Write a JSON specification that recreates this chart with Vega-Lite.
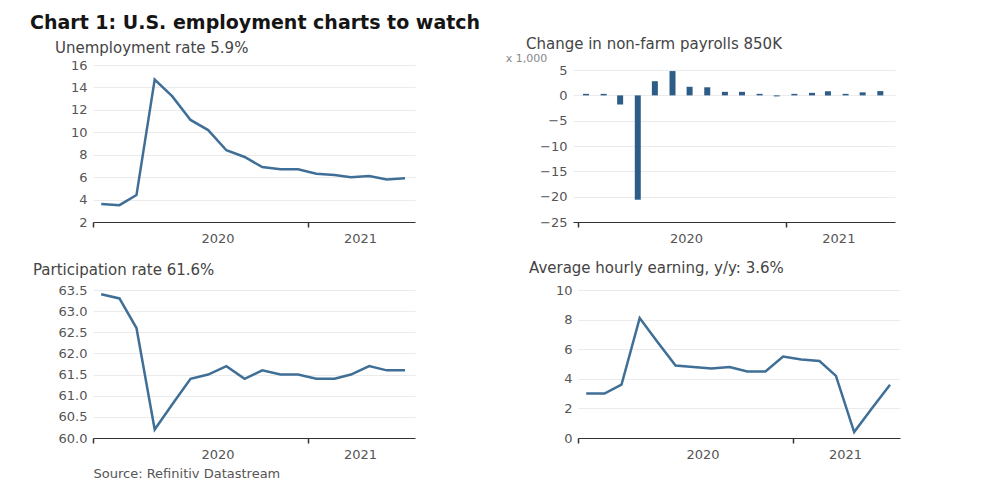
{
  "$schema": "https://vega.github.io/schema/vega-lite/v6.json",
  "padding": {"left": 30, "top": 14, "right": 10, "bottom": 2},
  "background": "white",
  "title": {"text": "Chart 1: U.S. employment charts to watch", "anchor": "start", "frame": "bounds", "font": "DejaVu Sans", "fontSize": 19, "fontWeight": "bold", "color": "#151515", "offset": 4},
  "datasets": {
    "d": [
      {"date": "2020-01-15", "unemp": 3.6, "payrolls": 0.3, "part": 63.4, "ahe": 3.0},
      {"date": "2020-02-15", "unemp": 3.5, "payrolls": 0.3, "part": 63.3, "ahe": 3.0},
      {"date": "2020-03-15", "unemp": 4.4, "payrolls": -1.8, "part": 62.6, "ahe": 3.6},
      {"date": "2020-04-15", "unemp": 14.7, "payrolls": -20.6, "part": 60.2, "ahe": 8.1},
      {"date": "2020-05-15", "unemp": 13.2, "payrolls": 2.8, "part": 60.8, "ahe": 6.5},
      {"date": "2020-06-15", "unemp": 11.1, "payrolls": 4.8, "part": 61.4, "ahe": 4.9},
      {"date": "2020-07-15", "unemp": 10.2, "payrolls": 1.7, "part": 61.5, "ahe": 4.8},
      {"date": "2020-08-15", "unemp": 8.4, "payrolls": 1.6, "part": 61.7, "ahe": 4.7},
      {"date": "2020-09-15", "unemp": 7.8, "payrolls": 0.7, "part": 61.4, "ahe": 4.8},
      {"date": "2020-10-15", "unemp": 6.9, "payrolls": 0.7, "part": 61.6, "ahe": 4.5},
      {"date": "2020-11-15", "unemp": 6.7, "payrolls": 0.3, "part": 61.5, "ahe": 4.5},
      {"date": "2020-12-15", "unemp": 6.7, "payrolls": -0.2, "part": 61.5, "ahe": 5.5},
      {"date": "2021-01-15", "unemp": 6.3, "payrolls": 0.3, "part": 61.4, "ahe": 5.3},
      {"date": "2021-02-15", "unemp": 6.2, "payrolls": 0.5, "part": 61.4, "ahe": 5.2},
      {"date": "2021-03-15", "unemp": 6.0, "payrolls": 0.8, "part": 61.5, "ahe": 4.2},
      {"date": "2021-04-15", "unemp": 6.1, "payrolls": 0.3, "part": 61.7, "ahe": 0.4},
      {"date": "2021-05-15", "unemp": 5.8, "payrolls": 0.6, "part": 61.6, "ahe": 2.0},
      {"date": "2021-06-15", "unemp": 5.9, "payrolls": 0.85, "part": 61.6, "ahe": 3.6}
    ]
  },
  "config": {
    "font": "DejaVu Sans",
    "view": {"stroke": null},
    "title": {"anchor": "start", "frame": "group", "font": "DejaVu Sans", "fontSize": 15, "fontWeight": "normal", "color": "#444"},
    "axisX": {
      "labelExpr": "utcFormat(datum.value, '%Y')",
      "labelOffset": {"condition": {"test": "utcyear(datum.value) == 2020", "value": 108}, "value": 52},
      "labelFontSize": 13, "labelColor": "#555", "labelPadding": 5,
      "tickColor": "#333", "tickSize": 5, "tickWidth": 1.5,
      "domainColor": "#333", "domainWidth": 1.2,
      "grid": false, "title": null
    },
    "axisY": {
      "grid": true, "gridColor": "#ebebeb", "gridWidth": 1,
      "ticks": false, "domain": false,
      "labelFontSize": 13, "labelColor": "#555", "labelPadding": 6,
      "minExtent": 63, "maxExtent": 63, "title": null
    }
  },
  "vconcat": [
    {
      "hconcat": [
        {
          "width": 322, "height": 157,
          "title": {"text": "Unemployment rate 5.9%", "dx": -38, "offset": 3},
          "data": {"name": "d"},
          "mark": {"type": "line", "color": "#3f6f97", "strokeWidth": 2.5},
          "encoding": {
            "x": {"field": "date", "type": "temporal", "scale": {"type": "utc", "domain": [{"year": 2020, "month": 1, "date": 1, "utc": true}, {"year": 2021, "month": 7, "date": 2, "utc": true}]}, "axis": {"values": [{"year": 2020, "month": 1, "date": 1, "utc": true}, {"year": 2021, "month": 1, "date": 1, "utc": true}]}},
            "y": {"field": "unemp", "type": "quantitative", "scale": {"domain": [2, 16], "nice": false}, "axis": {"values": [2, 4, 6, 8, 10, 12, 14, 16]}}
          }
        },
        {
          "width": 322, "height": 157,
          "title": {"text": "Change in non-farm payrolls 850K", "dx": -47, "offset": 0},
          "data": {"name": "d"},
          "mark": {"type": "bar", "color": "#2d5d87", "size": 6},
          "encoding": {
            "x": {"field": "date", "type": "temporal", "scale": {"type": "utc", "domain": [{"year": 2020, "month": 1, "date": 1, "utc": true}, {"year": 2021, "month": 7, "date": 2, "utc": true}]}, "axis": {"values": [{"year": 2020, "month": 1, "date": 1, "utc": true}, {"year": 2021, "month": 1, "date": 1, "utc": true}]}},
            "y": {"field": "payrolls", "type": "quantitative", "scale": {"domain": [-25, 6], "nice": false}, "axis": {"values": [-25, -20, -15, -10, -5, 0, 5], "title": "x 1,000", "titleAngle": 0, "titleX": -47, "titleY": -4, "titleAlign": "center", "titleBaseline": "alphabetic", "titleFontSize": 11, "titleFontWeight": "normal", "titleColor": "#888"}}
          }
        }
      ],
      "spacing": 90
    },
    {
      "hconcat": [
        {
          "width": 322, "height": 148,
          "title": {"text": "Participation rate 61.6%", "dx": -60, "offset": 6},
          "data": {"name": "d"},
          "mark": {"type": "line", "color": "#3f6f97", "strokeWidth": 2.5},
          "encoding": {
            "x": {"field": "date", "type": "temporal", "scale": {"type": "utc", "domain": [{"year": 2020, "month": 1, "date": 1, "utc": true}, {"year": 2021, "month": 7, "date": 2, "utc": true}]}, "axis": {"values": [{"year": 2020, "month": 1, "date": 1, "utc": true}, {"year": 2021, "month": 1, "date": 1, "utc": true}], "title": "Source: Refinitiv Datastream", "titleAnchor": "start", "titleAlign": "left", "titleX": 0, "titleY": 39, "titleBaseline": "alphabetic", "titleFontSize": 13, "titleFontWeight": "normal", "titleColor": "#555"}},
            "y": {"field": "part", "type": "quantitative", "scale": {"domain": [60, 63.5], "nice": false, "zero": false}, "axis": {"values": [60, 60.5, 61, 61.5, 62, 62.5, 63, 63.5], "format": ".1f"}}
          }
        },
        {
          "width": 322, "height": 148,
          "title": {"text": "Average hourly earning, y/y: 3.6%", "dx": -49, "offset": 8},
          "data": {"name": "d"},
          "mark": {"type": "line", "color": "#3f6f97", "strokeWidth": 2.5},
          "encoding": {
            "x": {"field": "date", "type": "temporal", "scale": {"type": "utc", "domain": [{"year": 2020, "month": 1, "date": 1, "utc": true}, {"year": 2021, "month": 7, "date": 2, "utc": true}]}, "axis": {"values": [{"year": 2020, "month": 1, "date": 1, "utc": true}, {"year": 2021, "month": 1, "date": 1, "utc": true}]}},
            "y": {"field": "ahe", "type": "quantitative", "scale": {"domain": [0, 10], "nice": false}, "axis": {"values": [0, 2, 4, 6, 8, 10]}}
          }
        }
      ],
      "spacing": 100
    }
  ],
  "spacing": 16
}
